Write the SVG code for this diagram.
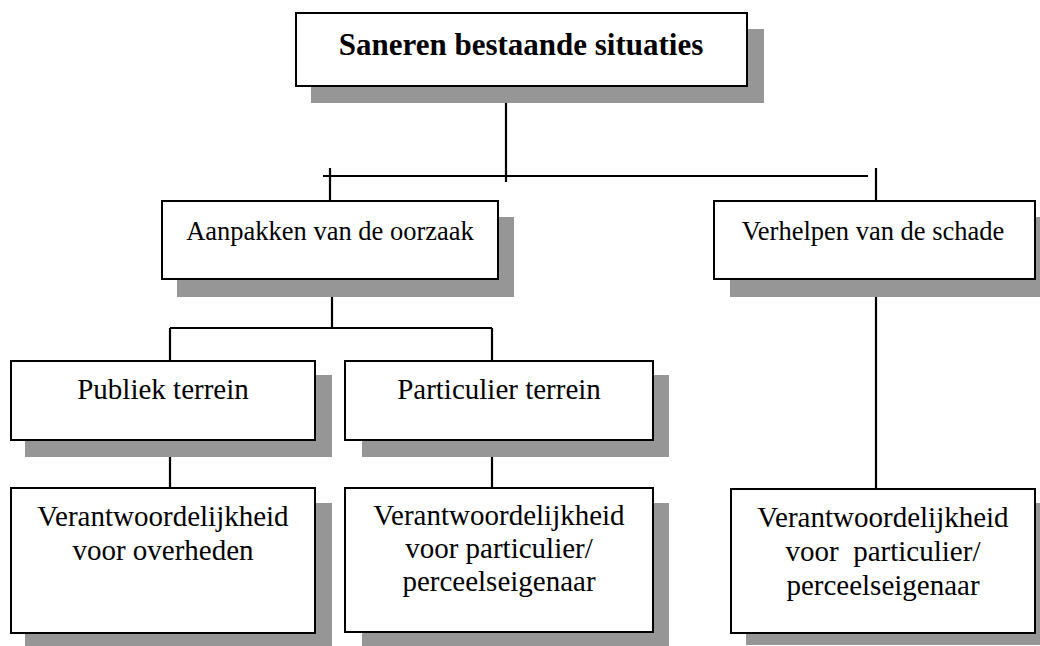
<svg xmlns="http://www.w3.org/2000/svg" width="1040" height="646" viewBox="0 0 1040 646" font-family="Liberation Serif, Times New Roman, serif">
<style>
.sh{fill:#969696;stroke:none}
.bx{fill:#fff;stroke:#000;stroke-width:2}
.t{fill:#000;text-anchor:middle}
.ln{stroke:#000;stroke-width:2.2;fill:none}
</style>
<rect width="1040" height="646" fill="#fff"/>
<g id="connectors">
<path class="ln" d="M506 86V182M323 176H868M330 168V201M876 168V201M332 279V328M170 328H492M170 328V361M492 328V361M170 440V488M492 440V488M876 279V489"/>
</g>
<g id="n-top">
<rect class="sh" x="311" y="29" width="453" height="74"/>
<rect class="bx" x="296" y="13" width="451" height="73"/>
<text class="t" x="521" y="55" font-size="31" font-weight="bold">Saneren bestaande situaties</text>
</g>
<g id="n-oorzaak">
<rect class="sh" x="177" y="217" width="337" height="80"/>
<rect class="bx" x="162" y="201" width="336" height="78"/>
<text class="t" x="330" y="240" font-size="26.5">Aanpakken van de oorzaak</text>
</g>
<g id="n-schade">
<rect class="sh" x="730" y="217" width="320" height="80"/>
<rect class="bx" x="714" y="201" width="321" height="78"/>
<text class="t" x="873" y="240" font-size="26.5">Verhelpen van de schade</text>
</g>
<g id="n-publiek">
<rect class="sh" x="25" y="375" width="307" height="82"/>
<rect class="bx" x="11" y="361" width="304" height="79"/>
<text class="t" x="163" y="399" font-size="29">Publiek terrein</text>
</g>
<g id="n-particulier">
<rect class="sh" x="362" y="375" width="307" height="82"/>
<rect class="bx" x="345" y="361" width="308" height="79"/>
<text class="t" x="499" y="399" font-size="29">Particulier terrein</text>
</g>
<g id="n-overheden">
<rect class="sh" x="25" y="503" width="307" height="143"/>
<rect class="bx" x="11" y="488" width="304" height="145"/>
<text class="t" x="163" y="526" font-size="29">Verantwoordelijkheid</text>
<text class="t" x="163" y="560" font-size="29">voor overheden</text>
</g>
<g id="n-perceel1">
<rect class="sh" x="362" y="503" width="307" height="143"/>
<rect class="bx" x="345" y="488" width="308" height="144"/>
<text class="t" x="499" y="525" font-size="29">Verantwoordelijkheid</text>
<text class="t" x="499" y="558" font-size="29">voor particulier/</text>
<text class="t" x="499" y="591" font-size="29">perceelseigenaar</text>
</g>
<g id="n-perceel2">
<rect class="sh" x="746" y="503" width="300" height="142"/>
<rect class="bx" x="731" y="489" width="304" height="144"/>
<text class="t" x="883" y="527" font-size="29">Verantwoordelijkheid</text>
<text class="t" x="883" y="561" font-size="29" xml:space="preserve">voor  particulier/</text>
<text class="t" x="883" y="595" font-size="29">perceelseigenaar</text>
</g>
</svg>
